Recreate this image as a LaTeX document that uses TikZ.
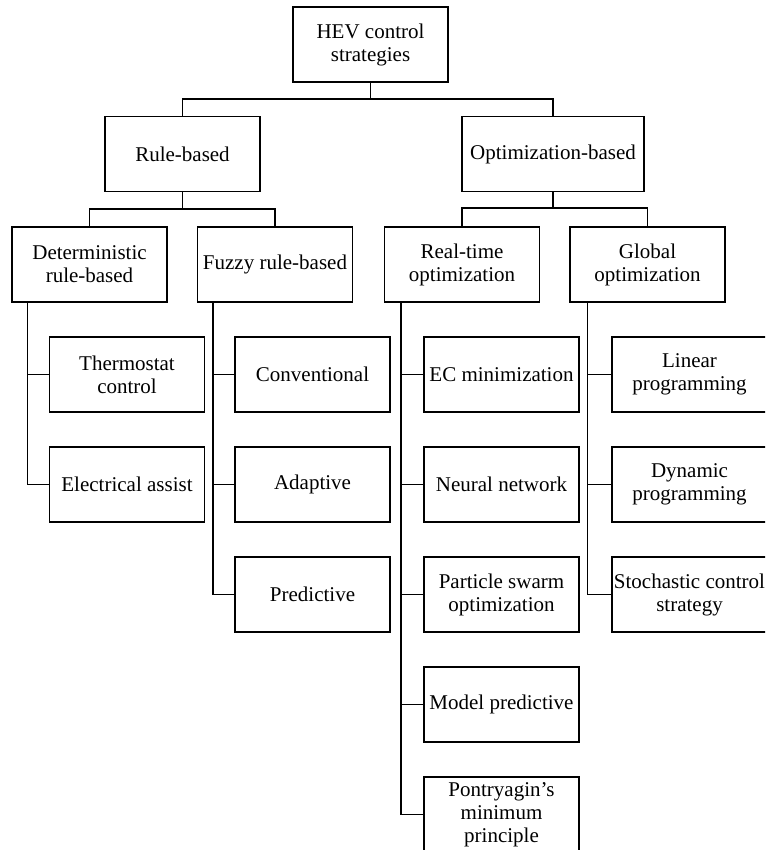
\documentclass[tikz,border=0pt]{standalone}
\usepackage{fontspec}
\setmainfont{Liberation Serif}
\usetikzlibrary{positioning}

\begin{document}
\begin{tikzpicture}[x=0.5pt, y=-0.5pt, line width=0.65pt,
    box/.style={draw, minimum width=77.5pt, minimum height=37.5pt, align=center,
        inner sep=1pt, font=\fontsize{10.5}{11.5}\selectfont},
    link/.style={line width=0.65pt}]
    \clip (0,0) rectangle (765,850);

    % Top levels
    \node[box] (hev) at (370.5,44.5) {HEV control\\strategies};
    \node[box] (rule) at (182.5,154) {Rule-based};
    \node[box, minimum width=91pt] (optim) at (553,154) {Optimization-based};

    \node[box] (det) at (89.5,264.5) {Deterministic\\rule-based};
    \node[box] (fuzzy) at (275,264.5) {Fuzzy rule-based};
    \node[box] (real) at (462,264.5) {Real-time\\optimization};
    \node[box] (glob) at (647.5,264.5) {Global\\optimization};

    % Leaves
    \node[box] (thermo) at (127,374.5) {Thermostat\\control};
    \node[box] (elec) at (127,484.5) {Electrical assist};

    \node[box] (conv) at (312.5,374.5) {Conventional};
    \node[box] (adapt) at (312.5,484.5) {Adaptive};
    \node[box] (pred) at (312.5,594.5) {Predictive};

    \node[box] (ecmin) at (501.5,374.5) {EC minimization};
    \node[box] (neural) at (501.5,484.5) {Neural network};
    \node[box] (pso) at (501.5,594.5) {Particle swarm\\optimization};
    \node[box] (mpc) at (501.5,704.5) {Model predictive};
    \node[box] (pmp) at (501.5,814.5) {Pontryagin’s\\minimum\\principle};

    \node[box] (linear) at (689.5,374.5) {Linear\\programming};
    \node[box] (dynprog) at (689.5,484.5) {Dynamic\\programming};
    \node[box] (stoch) at (689.5,594.5) {Stochastic control\\strategy};

    % Junctions
    \coordinate (j0) at (370.5,99);
    \coordinate (j1) at (182.5,209);
    \coordinate (j2) at (557,208);
    \draw[link] (hev.south) -- (j0);
    \draw[link] (rule.north) |- (j0) -| (optim.north);
    \draw[link] (rule.south) -- (j1);
    \draw[link] (det.north) |- (j1) -| (fuzzy.north);
    \draw[link] (optim.south) -- (optim.south |- j2);
    \draw[link] (real.north) |- (j2) -| (glob.north);

    % Trunks
    \coordinate (t1) at ([xshift=8pt]det.south west);
    \coordinate (t2) at ([xshift=8pt]fuzzy.south west);
    \coordinate (t3) at ([xshift=8.5pt]real.south west);
    \coordinate (t4) at ([xshift=9pt]glob.south west);

    \draw[link] (t1) |- (elec.west);
    \draw[link] (thermo.west) -- (thermo.west -| t1);

    \draw[link] (t2) |- (pred.west);
    \foreach \n in {conv, adapt}
        \draw[link] (\n.west) -- (\n.west -| t2);

    \draw[link] (t3) |- (pmp.west);
    \foreach \n in {ecmin, neural, pso, mpc}
        \draw[link] (\n.west) -- (\n.west -| t3);

    \draw[link] (t4) |- (stoch.west);
    \foreach \n in {linear, dynprog}
        \draw[link] (\n.west) -- (\n.west -| t4);
\end{tikzpicture}
\end{document}
